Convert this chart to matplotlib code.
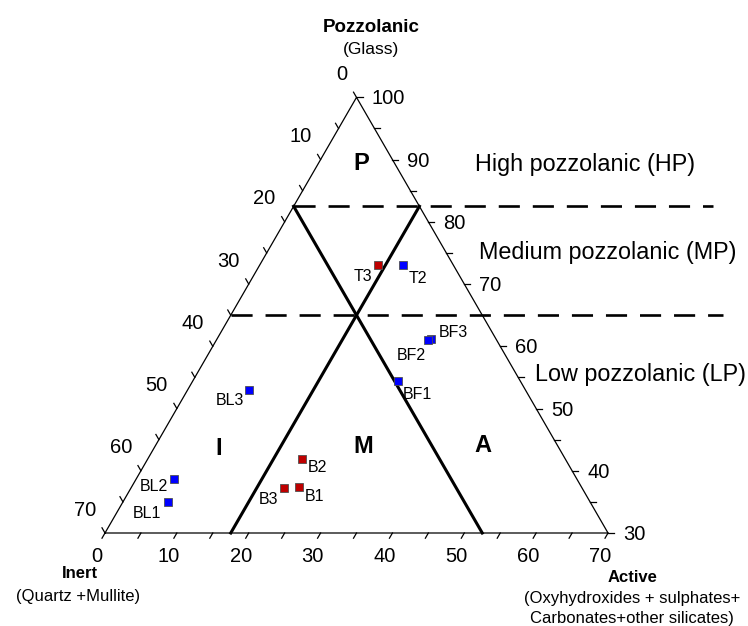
#! /usr/bin/env python3
# -*- coding:utf-8 -*-

# Ternary diagram Pozzolanic / Inert / Active (Pozzolanic from 30 to 100)

import matplotlib.pyplot as plt
import numpy as np

plt.rcParams['font.family'] = ['Liberation Sans', 'DejaVu Sans']

# samples: inert, active, pozzolanic (%)
samples = ['T3', 'T2', 'BF3', 'BF2', 'BF1', 'BL3', 'BL2', 'BL1', 'B2', 'B3', 'B1']
inert = [10.5, 7.0, 9.0, 9.5, 17.0, 38.5, 56.0, 58.8, 36.7, 41.4, 39.3]
active = [16.5, 20.0, 29.8, 29.5, 28.5, 8.5, 5.3, 6.2, 21.4, 21.3, 23.3]
pozz = [73.0, 73.0, 61.2, 61.0, 54.5, 53.0, 38.7, 35.0, 41.9, 37.3, 37.4]
red_samples = ['T3', 'B2', 'B3', 'B1']

# field limits
inert_lim = 17.5
active_lim = 17.5
pozz_levels = [82.5, 65.0]
level_names = ['High pozzolanic (HP)', 'Medium pozzolanic (MP)', 'Low pozzolanic (LP)']
fields = ['P', 'I', 'M', 'A']

# label offsets in pixels (dx, dy, ha)
offs = {'T3': (-6, -16, 'right'), 'T2': (5, -17.5, 'left'),
        'BF3': (8, 1.5, 'left'), 'BF2': (-2, -20, 'right'),
        'BF1': (5, -18.5, 'left'), 'BL3': (-5, -15.5, 'right'),
        'BL2': (-6, -12, 'right'), 'BL1': (-6, -16, 'right'),
        'B2': (6.5, -13, 'left'), 'B3': (-6, -16.5, 'right'),
        'B1': (6, -14.5, 'left')}

SQ3 = np.sqrt(3) / 2
PX = 7.186  # pixels per unit


def tern(a, p):
    a = np.asarray(a, float)
    p = np.asarray(p, float)
    return a + (p - 30) / 2, (p - 30) * SQ3


fig = plt.figure(figsize=(7.48, 6.26), dpi=100)
ax = fig.add_axes([0, 0, 1, 1])
ax.set_xlim(-105 / PX, (748 - 105) / PX)
ax.set_ylim(-(626 - 533) / PX, 533 / PX)
ax.axis('off')

# triangle
xs, ys = tern([0, 70, 0, 0], [30, 30, 100, 30])
ax.plot(xs, ys, color='black', lw=0.9)

# ticks and tick labels
tl = 6 / PX
for v in range(0, 75, 5):
    x, y = tern(v, 30)
    ax.plot([x, x - 0.5 * tl], [y, y - SQ3 * tl], color='black', lw=0.9)
    if v % 10 == 0:
        ax.annotate(str(v), (x, y), xytext=(-8, -28.7), textcoords='offset pixels',
                    ha='center', va='baseline', fontsize=14.5)
    x, y = tern(0, 100 - v)
    ax.plot([x, x - 0.5 * tl], [y, y + SQ3 * tl], color='black', lw=0.9)
    if v % 10 == 0:
        ax.annotate(str(v), (x, y), xytext=(-9, 17.5), textcoords='offset pixels',
                    ha='right', va='baseline', fontsize=14.5)
    p = v + 30
    x, y = tern(100 - p, p)
    ax.plot([x, x + tl], [y, y], color='black', lw=0.9)
    if v % 10 == 0:
        ax.annotate(str(p), (x, y), xytext=(15, -7), textcoords='offset pixels',
                    ha='left', va='baseline', fontsize=14.5)

# field boundaries
xs, ys = tern([0, 70 - inert_lim], [100 - inert_lim, 30])
ax.plot(xs, ys, color='black', lw=2.2)
xs, ys = tern([active_lim, active_lim], [100 - active_lim, 30])
ax.plot(xs, ys, color='black', lw=2.2)

ends = [(713 - 105) / PX, (723 - 105) / PX]
for lev, xe in zip(pozz_levels, ends):
    x0, y0 = tern(0, lev)
    ax.plot([x0, xe], [y0, y0], color='black', lw=1.9, dashes=(8, 4.9))

# level names
ax.text(51.5, 50.4, level_names[0], fontsize=16.8, va='baseline')
ax.text(52.05, 38.1, level_names[1], fontsize=16.8, va='baseline')
ax.text(59.8, 21.15, level_names[2], fontsize=16.8, va='baseline')

# field letters
for f, x, y in zip(fields, [35.7, 15.8, 35.95, 52.6], [50.5, 10.85, 11.1, 11.3]):
    ax.text(x, y, f, fontsize=17, fontweight='bold', ha='center', va='baseline')

# samples
xs, ys = tern(active, pozz)
for s, x, y in zip(samples, xs, ys):
    c = '#BE0000' if s in red_samples else '#0000FF'
    ax.plot(x, y, 's', color=c, ms=6.3, mec='#505050', mew=0.6, zorder=5)
    dx, dy, ha = offs[s]
    ax.annotate(s, (x, y), xytext=(dx, dy), textcoords='offset pixels',
                ha=ha, va='baseline', fontsize=11.5)

# axis titles
def px2d(x, y):
    return (x - 105) / PX, (533 - y) / PX

ax.text(*px2d(371.3, 31.7), 'Pozzolanic', fontsize=13.5, fontweight='bold',
        ha='center', va='baseline')
ax.text(*px2d(371.3, 54), '(Glass)', fontsize=12.5, ha='center', va='baseline')
ax.text(*px2d(79.7, 578.3), 'Inert', fontsize=12, fontweight='bold',
        ha='center', va='baseline')
ax.text(*px2d(78.3, 601), '(Quartz +Mullite)', fontsize=12, ha='center', va='baseline')
ax.text(*px2d(632.7, 581.7), 'Active', fontsize=12, fontweight='bold',
        ha='center', va='baseline')
ax.text(*px2d(632.2, 603.3), '(Oxyhydroxides + sulphates+', fontsize=12,
        ha='center', va='baseline')
ax.text(*px2d(632.3, 623.3), 'Carbonates+other silicates)', fontsize=12,
        ha='center', va='baseline')

plt.savefig('out.png', dpi=100)
